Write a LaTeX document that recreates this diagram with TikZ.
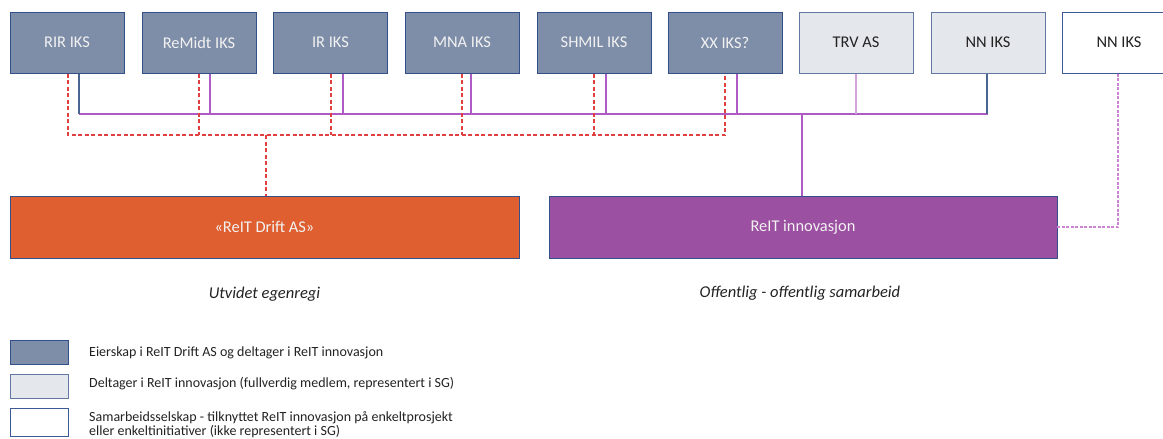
\documentclass[tikz,border=0pt]{standalone}
\usepackage{fontspec}
\setmainfont{Carlito}
\definecolor{darkfill}{HTML}{7F8EA8}
\definecolor{darkline}{HTML}{34508A}
\definecolor{lightfill}{HTML}{E4E7EC}
\definecolor{lightline}{HTML}{6377A3}
\definecolor{whiteline}{HTML}{3C5A96}
\definecolor{orangefill}{HTML}{DF5F31}
\definecolor{purplefill}{HTML}{9C50A1}
\definecolor{busline}{HTML}{AE5CC4}
\definecolor{trvline}{HTML}{D3A3DA}
\definecolor{redline}{HTML}{E0403F}
\definecolor{pdashline}{HTML}{CC84D2}
\definecolor{bluevert}{HTML}{4A6591}
\definecolor{capgrey}{HTML}{222222}
\tikzset{
  topbox/.style={rectangle, minimum width=114pt, minimum height=61pt, inner sep=0pt, line width=1pt, font=\fontsize{16.4}{19}\selectfont},
  darkbox/.style={topbox, fill=darkfill, draw=darkline, text=white!95!black},
  lightbox/.style={topbox, fill=lightfill, draw=lightline, text=capgrey},
  whitebox/.style={topbox, fill=white, draw=whiteline, text=capgrey},
  bigbox/.style={rectangle, minimum height=62pt, inner sep=0pt, draw=darkline, line width=0.8pt, text=white!95!black, font=\fontsize{16.4}{19}\selectfont},
  reddash/.style={draw=redline, line width=1.8pt, dash pattern=on 4pt off 2.5pt},
  bus/.style={draw=busline, line width=1.4pt},
  pdash/.style={draw=pdashline, line width=1.3pt, dash pattern=on 3pt off 1.5pt},
  caption/.style={font=\fontsize{16.5}{19}\selectfont\itshape, text=capgrey},
  legbox/.style={rectangle, minimum width=58pt, inner sep=0pt, line width=1pt},
  legtext/.style={anchor=west, inner sep=0pt, font=\fontsize{14}{14.5}\selectfont, text=capgrey, align=left}
}
\begin{document}
\begin{tikzpicture}[x=1pt, y=-1pt]
\useasboundingbox (0,0) rectangle (1163,439);
\clip (0,0) rectangle (1163,439);
% top boxes
\node[darkbox] (rir) at (67,42.5) {RIR IKS};
\node[darkbox] (remidt) at (199,42.5) {ReMidt IKS};
\node[darkbox] (ir) at (330.5,42.5) {IR IKS};
\node[darkbox] (mna) at (462,42.5) {MNA IKS};
\node[darkbox] (shmil) at (594,42.5) {SHMIL IKS};
\node[darkbox] (xx) at (725,42.5) {XX IKS?};
\node[lightbox] (trv) at (856,42.5) {TRV AS};
\node[lightbox] (nn) at (988,42.5) {NN IKS};
\node[whitebox] (nn2) at (1119,42.5) {NN IKS};
% bottom boxes
\node[bigbox, fill=orangefill, minimum width=509pt] (drift) at (264.5,227) {«ReIT Drift AS»};
\node[bigbox, fill=purplefill, minimum width=508pt] (innov) at (803,227) {ReIT innovasjon};
% bus coordinates
\coordinate (pbus) at (0,114);
\coordinate (rbus) at (0,135);
% purple bus
\draw[bus] ([xshift=12pt]rir.south |- pbus) -- (nn.south |- pbus);
\draw[draw=bluevert, line width=1.2pt] ([xshift=12pt]rir.south) -- ([xshift=12pt]rir.south |- pbus);
\draw[bus] ([xshift=11pt]remidt.south) -- ([xshift=11pt]remidt.south |- pbus);
\draw[bus] ([xshift=12.5pt]ir.south) -- ([xshift=12.5pt]ir.south |- pbus);
\draw[bus] ([xshift=9pt]mna.south) -- ([xshift=9pt]mna.south |- pbus);
\draw[bus] ([xshift=12pt]shmil.south) -- ([xshift=12pt]shmil.south |- pbus);
\draw[bus] ([xshift=12pt]xx.south) -- ([xshift=12pt]xx.south |- pbus);
\draw[draw=trvline, line width=1.6pt] (trv.south) -- (trv.south |- pbus);
\draw[draw=bluevert, line width=1.2pt] ([xshift=-1pt]nn.south) -- ([xshift=-1pt]nn.south |- pbus);
\draw[bus] ([xshift=-1pt]innov.north) -- ([xshift=-1pt]innov.north |- pbus);
% red dashed bus
\draw[reddash] ([xshift=1pt]rir.south) -- ([xshift=1pt]rir.south |- rbus) -- (xx.south |- rbus) -- (xx.south);
\draw[reddash] (remidt.south) -- (remidt.south |- rbus);
\draw[reddash] ([xshift=0.5pt]ir.south) -- ([xshift=0.5pt]ir.south |- rbus);
\draw[reddash] (mna.south) -- (mna.south |- rbus);
\draw[reddash] (shmil.south) -- (shmil.south |- rbus);
\draw[reddash] ([xshift=1.5pt]drift.north |- rbus) -- ([xshift=1.5pt]drift.north);
% NN dashed link
\draw[pdash] ([xshift=-1pt]nn2.south) |- (innov.east);
% captions
\node[caption] (cap1) at (264.5,294) {Utvidet egenregi};
\node[caption] (cap2) at (800,293) {Offentlig - offentlig samarbeid};
% legend
\node[legbox, minimum height=24pt, fill=darkfill, draw=darkline] (lg1) at (39,352) {};
\node[legbox, minimum height=24pt, fill=lightfill, draw=lightline] (lg2) at (39,386) {};
\node[legbox, minimum height=28pt, fill=white, draw=whiteline] (lg3) at (39,422) {};
\node[legtext] (lt1) at (89,353) {Eierskap i ReIT Drift AS og deltager i ReIT innovasjon};
\node[legtext] (lt2) at (89,384) {Deltager i ReIT innovasjon (fullverdig medlem, representert i SG)};
\node[legtext] (lt3) at (89,424.5) {Samarbeidsselskap - tilknyttet ReIT innovasjon på enkeltprosjekt\\eller enkeltinitiativer (ikke representert i SG)};
\end{tikzpicture}
\end{document}
